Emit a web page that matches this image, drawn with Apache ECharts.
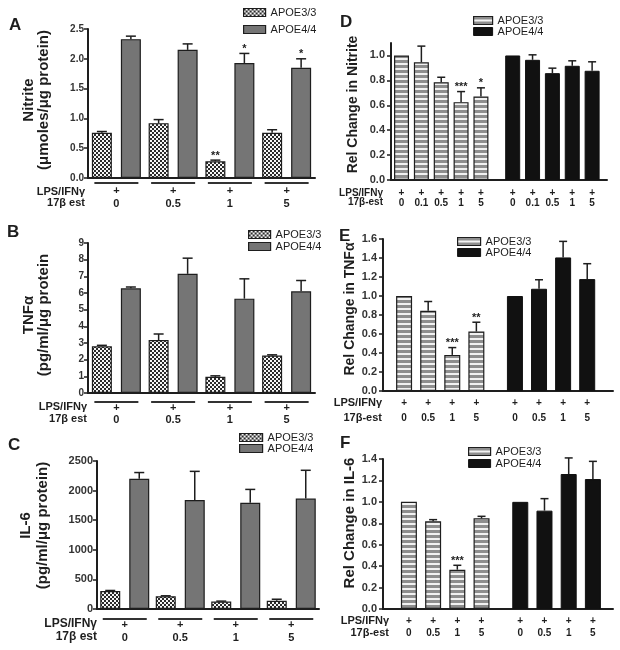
<!DOCTYPE html>
<html><head><meta charset="utf-8">
<script src="https://cdn.jsdelivr.net/npm/echarts@6/dist/echarts.min.js"></script>
<style>html,body{margin:0;padding:0;background:#fff}#c{width:620px;height:650px}</style>
</head><body><div id="c"></div>
<script>
// ---------- data ----------
const doseLeft = ['0', '0.5', '1', '5'];
const doseD = ['0', '0.1', '0.5', '1', '5'];
const doseEF = ['0', '0.5', '1', '5'];
const seriesNames = ['APOE3/3', 'APOE4/4'];

// A: Nitrite (µmoles/µg protein)
const nitriteE3 = [0.76, 0.92, 0.28, 0.76];
const nitriteE3Err = [0.02, 0.06, 0.02, 0.05];
const nitriteE3Sig = ['', '', '**', ''];
const nitriteE4 = [2.33, 2.15, 1.93, 1.85];
const nitriteE4Err = [0.05, 0.10, 0.16, 0.15];
const nitriteE4Sig = ['', '', '*', '*'];
const ticksA = [0, 0.5, 1.0, 1.5, 2.0, 2.5];

// B: TNFα (pg/ml/µg protein)
const tnfE3 = [2.8, 3.18, 0.97, 2.25];
const tnfE3Err = [0.06, 0.36, 0.06, 0.04];
const tnfE3Sig = ['', '', '', ''];
const tnfE4 = [6.28, 7.15, 5.66, 6.1];
const tnfE4Err = [0.08, 0.94, 1.19, 0.65];
const tnfE4Sig = ['', '', '', ''];
const ticksB = [0, 1, 2, 3, 4, 5, 6, 7, 8, 9];

// C: IL-6 (pg/ml/µg protein)
const il6E3 = [305, 215, 125, 140];
const il6E3Err = [8, 8, 8, 25];
const il6E3Sig = ['', '', '', ''];
const il6E4 = [2200, 1840, 1795, 1865];
const il6E4Err = [105, 485, 225, 478];
const il6E4Sig = ['', '', '', ''];
const ticksC = [0, 500, 1000, 1500, 2000, 2500];

// D: Rel change in nitrite
const relNitriteE3 = [1.0, 0.945, 0.785, 0.625, 0.67];
const relNitriteE3Err = [0, 0.13, 0.04, 0.085, 0.07];
const relNitriteE3Sig = ['', '', '', '***', '*'];
const relNitriteE4 = [1.0, 0.965, 0.858, 0.917, 0.877];
const relNitriteE4Err = [0, 0.04, 0.04, 0.04, 0.072];
const relNitriteE4Sig = ['', '', '', '', ''];
const ticksD = [0, 0.2, 0.4, 0.6, 0.8, 1.0];

// E: Rel change in TNFα
const relTnfE3 = [1.0, 0.845, 0.38, 0.626];
const relTnfE3Err = [0, 0.097, 0.077, 0.098];
const relTnfE3Sig = ['', '', '***', '**'];
const relTnfE4 = [1.0, 1.076, 1.406, 1.178];
const relTnfE4Err = [0, 0.095, 0.169, 0.162];
const relTnfE4Sig = ['', '', '', ''];
const ticksE = [0, 0.2, 0.4, 0.6, 0.8, 1.0, 1.2, 1.4, 1.6];

// F: Rel change in IL-6
const relIl6E3 = [1.0, 0.818, 0.367, 0.846];
const relIl6E3Err = [0, 0.016, 0.041, 0.019];
const relIl6E3Sig = ['', '', '***', ''];
const relIl6E4 = [1.0, 0.918, 1.26, 1.213];
const relIl6E4Err = [0, 0.112, 0.15, 0.165];
const relIl6E4Sig = ['', '', '', ''];
const ticksF = [0, 0.2, 0.4, 0.6, 0.8, 1.0, 1.2, 1.4];

// ---------- styling / layout ----------
const FONT = '"Liberation Sans", Arial, Helvetica, sans-serif';
const INK = '#1e1e1e';
const BAR_W = 20, GAP_PX = 9;        // left panels
const GAP_SLOTS = 0.6;               // extra gap between genotype blocks (right panels)

function checkerCanvas() {
  const c = document.createElement('canvas'); c.width = 4; c.height = 4;
  const g = c.getContext('2d');
  g.fillStyle = '#f6f6f6'; g.fillRect(0, 0, 4, 4);
  g.fillStyle = '#2a2a2a'; g.fillRect(0, 0, 2, 2); g.fillRect(2, 2, 2, 2);
  return c;
}
function stripeCanvas() {
  const c = document.createElement('canvas'); c.width = 4; c.height = 5;
  const g = c.getContext('2d');
  g.fillStyle = '#8e8e8e'; g.fillRect(0, 0, 4, 5);
  g.fillStyle = '#f2f2f2'; g.fillRect(0, 3, 4, 2);
  return c;
}
const checkerPat = { image: checkerCanvas(), repeat: 'repeat' };
const stripePat = { image: stripeCanvas(), repeat: 'repeat' };
const leftE3Style = { color: checkerPat, borderColor: INK, borderWidth: 1.2 };
const leftE4Style = { color: '#757575', borderColor: INK, borderWidth: 1.2 };
const rightE3Style = { color: stripePat, borderColor: INK, borderWidth: 1.2 };
const rightE4Style = { color: '#111', borderColor: '#111', borderWidth: 1 };

const option = {
  animation: false,
  backgroundColor: '#fff',
  textStyle: { fontFamily: FONT },
  grid: [], xAxis: [], yAxis: [], series: [], legend: [], graphic: []
};

function errRender(offsetPx, capHalf, sigs) {
  return function (params, api) {
    const x = api.value(0), v = api.value(1), e = api.value(2);
    const p0 = api.coord([x, v]);
    const p1 = api.coord([x, v + e]);
    const cx = p0[0] + offsetPx;
    const children = [];
    if (e > 0) {
      children.push({ type: 'line', shape: { x1: cx, y1: p0[1], x2: cx, y2: p1[1] }, style: { stroke: INK, lineWidth: 1.5 } });
      children.push({ type: 'line', shape: { x1: cx - capHalf, y1: p1[1], x2: cx + capHalf, y2: p1[1] }, style: { stroke: INK, lineWidth: 1.5 } });
    }
    const s = sigs[params.dataIndex];
    if (s) {
      children.push({ type: 'text', style: { text: s, x: cx, y: p1[1] + 1, align: 'center', verticalAlign: 'bottom', font: 'bold 11px ' + FONT, fill: INK } });
    }
    return { type: 'group', children: children };
  };
}

function yAxisCfg(i, P) {
  return {
    gridIndex: i, type: 'value', min: 0, max: P.yMax,
    axisLine: { show: true, onZero: false, lineStyle: { color: INK, width: 2 } },
    axisTick: { show: true, length: 4, lineStyle: { color: INK, width: 1.5 }, customValues: P.ticks },
    splitLine: { show: false },
    axisLabel: { margin: P.tickMargin, fontSize: P.tickFs, fontWeight: 'bold', color: '#333', fontFamily: FONT,
      customValues: P.ticks, formatter: v => v.toFixed(P.yDec) },
    name: P.name, nameLocation: 'middle', nameRotate: 90, nameGap: P.nameGap,
    nameTextStyle: { fontSize: P.nameFs, fontWeight: 'bold', color: INK, lineHeight: P.nameLh,
      fontFamily: FONT, padding: [0, 0, 0, P.namePad] }
  };
}

function legendCfg(P, e3Style, e4Style) {
  return {
    orient: 'vertical', left: P.legend[0], top: P.legend[1], padding: 0,
    itemWidth: P.legend[2], itemHeight: 8, itemGap: P.legend[3], icon: 'rect', selectedMode: false,
    textStyle: { fontSize: 11, color: INK, lineHeight: 11, fontFamily: FONT },
    data: [{ name: seriesNames[0], itemStyle: e3Style }, { name: seriesNames[1], itemStyle: e4Style }]
  };
}

function addText(x, y, text, font, align) {
  option.graphic.push({ type: 'text', x: x, y: y, silent: true,
    style: { text: text, font: font, fill: INK, align: align || 'left', verticalAlign: 'middle' } });
}

function addLeft(i, P) {
  option.grid.push(P.grid);
  option.xAxis.push({
    gridIndex: i, type: 'category', data: doseLeft,
    axisLine: { onZero: false, lineStyle: { color: INK, width: 2 } }, axisTick: { show: false },
    axisLabel: {
      interval: 0, margin: P.lblMargin,
      formatter: v => '{ln|}\n{p|+}\n{d|' + v + '}',
      rich: {
        ln: { width: 44, height: 2, lineHeight: 2, backgroundColor: '#333' },
        p: { fontSize: 11, fontWeight: 'bold', lineHeight: P.plh, color: INK, fontFamily: FONT },
        d: { fontSize: 11, fontWeight: 'bold', lineHeight: P.dlh, color: INK, fontFamily: FONT }
      }
    }
  });
  option.yAxis.push(yAxisCfg(i, P));
  const gap = (GAP_PX / BAR_W * 100) + '%';
  option.series.push({ type: 'bar', name: seriesNames[0], xAxisIndex: i, yAxisIndex: i, data: P.e3,
    barWidth: BAR_W, barGap: gap, itemStyle: leftE3Style });
  option.series.push({ type: 'bar', name: seriesNames[1], xAxisIndex: i, yAxisIndex: i, data: P.e4,
    barWidth: BAR_W, barGap: gap, itemStyle: leftE4Style });
  const off = (BAR_W + GAP_PX) / 2;
  option.series.push({ type: 'custom', xAxisIndex: i, yAxisIndex: i, z: 5, silent: true, clip: false,
    renderItem: errRender(-off, 5, P.e3sig), data: P.e3.map((v, k) => [k, v, P.e3err[k]]) });
  option.series.push({ type: 'custom', xAxisIndex: i, yAxisIndex: i, z: 5, silent: true, clip: false,
    renderItem: errRender(off, 5, P.e4sig), data: P.e4.map((v, k) => [k, v, P.e4err[k]]) });
  option.legend.push(legendCfg(P, leftE3Style, leftE4Style));
  addText(P.letter[0], P.letter[1], P.key, 'bold 17px ' + FONT);
  addText(P.rowX, P.rowY[0], 'LPS/IFNγ', 'bold ' + P.rowFs + 'px ' + FONT, 'right');
  addText(P.rowX, P.rowY[1], '17β est', 'bold ' + P.rowFs + 'px ' + FONT, 'right');
}

function addRight(i, P) {
  option.grid.push(P.grid);
  option.xAxis.push({
    gridIndex: i, type: 'value', min: P.xMin, max: P.xMax,
    axisLine: { show: true, onZero: false, lineStyle: { color: INK, width: 2 } },
    axisTick: { show: false }, axisLabel: { show: false }, splitLine: { show: false }
  });
  option.yAxis.push(yAxisCfg(i, P));
  const n = P.doses.length;
  const lbl = {
    show: true, position: 'bottom', distance: P.lblDist,
    formatter: p => '{p|+}\n{d|' + P.doses[p.dataIndex] + '}',
    rich: {
      p: { fontSize: 10, fontWeight: 'bold', lineHeight: P.plh, color: INK, fontFamily: FONT },
      d: { fontSize: 10, fontWeight: 'bold', lineHeight: P.dlh, color: INK, fontFamily: FONT }
    }
  };
  const x3 = P.e3.map((v, k) => k);
  const x4 = P.e4.map((v, k) => k + n + GAP_SLOTS);
  option.series.push({ type: 'bar', name: seriesNames[0], xAxisIndex: i, yAxisIndex: i, barWidth: P.barW,
    barGap: '-100%', data: P.e3.map((v, k) => [x3[k], v]), itemStyle: rightE3Style, label: lbl });
  option.series.push({ type: 'bar', name: seriesNames[1], xAxisIndex: i, yAxisIndex: i, barWidth: P.barW,
    barGap: '-100%', data: P.e4.map((v, k) => [x4[k], v]), itemStyle: rightE4Style, label: lbl });
  option.series.push({ type: 'custom', xAxisIndex: i, yAxisIndex: i, z: 5, silent: true, clip: false,
    renderItem: errRender(0, 4, P.e3sig), data: P.e3.map((v, k) => [x3[k], v, P.e3err[k]]) });
  option.series.push({ type: 'custom', xAxisIndex: i, yAxisIndex: i, z: 5, silent: true, clip: false,
    renderItem: errRender(0, 4, P.e4sig), data: P.e4.map((v, k) => [x4[k], v, P.e4err[k]]) });
  option.legend.push(legendCfg(P, rightE3Style, rightE4Style));
  addText(P.letter[0], P.letter[1], P.key, 'bold 17px ' + FONT);
  addText(P.rowX, P.rowY[0], 'LPS/IFNγ', 'bold ' + P.rowFs + 'px ' + FONT, 'right');
  addText(P.rowX, P.rowY[1], '17β-est', 'bold ' + P.rowFs + 'px ' + FONT, 'right');
}

addLeft(0, {
  key: 'A', grid: { left: 88, top: 29, width: 227, height: 149 },
  yMax: 2.5, ticks: ticksA, yDec: 1, tickFs: 10, tickMargin: 4,
  name: 'Nitrite\n(μmoles/μg protein)', nameGap: 37, nameFs: 15, nameLh: 15, namePad: 7,
  e3: nitriteE3, e3err: nitriteE3Err, e3sig: nitriteE3Sig, e4: nitriteE4, e4err: nitriteE4Err, e4sig: nitriteE4Sig,
  lblMargin: 4, plh: 14, dlh: 12,
  legend: [243, 7, 22, 6], letter: [9, 25], rowX: 85, rowY: [192, 203], rowFs: 11
});
addLeft(1, {
  key: 'B', grid: { left: 88, top: 243, width: 227, height: 150 },
  yMax: 9, ticks: ticksB, yDec: 0, tickFs: 10, tickMargin: 4,
  name: 'TNFα\n(pg/ml/μg protein', nameGap: 37, nameFs: 15, nameLh: 15, namePad: 6,
  e3: tnfE3, e3err: tnfE3Err, e3sig: tnfE3Sig, e4: tnfE4, e4err: tnfE4Err, e4sig: tnfE4Sig,
  lblMargin: 8, plh: 10, dlh: 14,
  legend: [248, 229, 22, 1], letter: [7, 232], rowX: 87, rowY: [407, 419], rowFs: 11
});
addLeft(2, {
  key: 'C', grid: { left: 97, top: 461, width: 222, height: 148 },
  yMax: 2500, ticks: ticksC, yDec: 0, tickFs: 11, tickMargin: 4,
  name: 'IL-6\n(pg/ml/μg protein)', nameGap: 46, nameFs: 15, nameLh: 17, namePad: 19,
  e3: il6E3, e3err: il6E3Err, e3sig: il6E3Sig, e4: il6E4, e4err: il6E4Err, e4sig: il6E4Sig,
  lblMargin: 9, plh: 9, dlh: 17,
  legend: [239, 432, 23, 0], letter: [8, 445], rowX: 97, rowY: [624, 637], rowFs: 12
});
addRight(3, {
  key: 'D', grid: { left: 391, top: 43, width: 216, height: 137 },
  yMax: 1.1, ticks: ticksD, yDec: 1, tickFs: 11, tickMargin: 6,
  name: 'Rel Change in Nitrite', nameGap: 30, nameFs: 14, nameLh: 15, namePad: 14,
  xMin: -0.53, xMax: 10.35, barW: 15, doses: doseD,
  e3: relNitriteE3, e3err: relNitriteE3Err, e3sig: relNitriteE3Sig, e4: relNitriteE4, e4err: relNitriteE4Err, e4sig: relNitriteE4Sig,
  lblDist: 8, plh: 10, dlh: 10,
  legend: [473, 15, 19, 0], letter: [340, 22], rowX: 383, rowY: [193, 202], rowFs: 10
});
addRight(4, {
  key: 'E', grid: { left: 383, top: 239, width: 230, height: 152 },
  yMax: 1.6, ticks: ticksE, yDec: 1, tickFs: 11, tickMargin: 6,
  name: 'Rel Change in TNFα', nameGap: 23, nameFs: 14, nameLh: 15, namePad: 12,
  xMin: -0.875, xMax: 8.67, barW: 16, doses: doseEF,
  e3: relTnfE3, e3err: relTnfE3Err, e3sig: relTnfE3Sig, e4: relTnfE4, e4err: relTnfE4Err, e4sig: relTnfE4Sig,
  lblDist: 5, plh: 14, dlh: 16,
  legend: [457, 236, 23, 0], letter: [339, 236], rowX: 382, rowY: [403, 418], rowFs: 11
});
addRight(5, {
  key: 'F', grid: { left: 383, top: 459, width: 230, height: 150 },
  yMax: 1.4, ticks: ticksF, yDec: 1, tickFs: 11, tickMargin: 6,
  name: 'Rel Change in IL-6', nameGap: 23, nameFs: 15, nameLh: 15, namePad: 22,
  xMin: -1.07, xMax: 8.43, barW: 16, doses: doseEF,
  e3: relIl6E3, e3err: relIl6E3Err, e3sig: relIl6E3Sig, e4: relIl6E4, e4err: relIl6E4Err, e4sig: relIl6E4Sig,
  lblDist: 6, plh: 12, dlh: 12,
  legend: [468, 446, 22, 1], letter: [340, 443], rowX: 389, rowY: [621, 633], rowFs: 11
});

const chart = echarts.init(document.getElementById('c'), null, { renderer: 'canvas' });
chart.setOption(option);
</script>
</body></html>
